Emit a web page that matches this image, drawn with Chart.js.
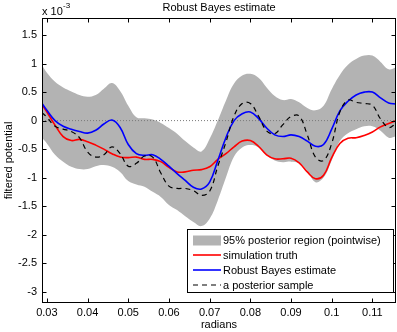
<!DOCTYPE html>
<html>
<head>
<meta charset="utf-8">
<script src="https://cdn.jsdelivr.net/npm/chart.js@4.4.1/dist/chart.umd.min.js"></script>
<style>
    html, body { margin: 0; padding: 0; background: #fff; }
    canvas { display: block; }
</style>
</head>
<body>
<canvas id="potentialChart" width="397" height="332"></canvas>
<script>
// values (potential in units of 1e-3)
const radians = [0.0288, 0.030, 0.032, 0.034, 0.036, 0.038, 0.040, 0.042, 0.044, 0.046,
    0.048, 0.050, 0.052, 0.054, 0.056, 0.058, 0.060, 0.062, 0.064, 0.066,
    0.068, 0.070, 0.072, 0.074, 0.076, 0.078, 0.080, 0.082, 0.084, 0.086,
    0.088, 0.090, 0.092, 0.094, 0.096, 0.098, 0.100, 0.102, 0.104, 0.106,
    0.108, 0.110, 0.112, 0.114, 0.1158];
const bandUpper = [0.97, 0.84, 0.68, 0.58, 0.51, 0.45, 0.42, 0.45, 0.56, 0.66,
    0.52, 0.26, 0.06, 0.04, 0.02, -0.04, -0.13, -0.23, -0.36, -0.47,
    -0.54, -0.32, 0.00, 0.35, 0.65, 0.79, 0.82, 0.75, 0.58, 0.43,
    0.36, 0.38, 0.32, 0.22, 0.18, 0.26, 0.55, 0.80, 0.98, 1.08,
    1.14, 1.14, 1.03, 0.90, 0.93];
const bandLower = [-0.30, -0.40, -0.60, -0.72, -0.81, -0.85, -0.85, -0.80, -0.78, -0.81,
    -0.90, -1.06, -1.12, -1.16, -1.25, -1.34, -1.48, -1.57, -1.68, -1.78,
    -1.85, -1.72, -1.40, -1.00, -0.63, -0.47, -0.43, -0.47, -0.60, -0.70,
    -0.73, -0.72, -0.75, -0.88, -1.08, -1.00, -0.70, -0.36, -0.22, -0.15,
    -0.10, -0.10, -0.18, -0.30, -0.28];
const truth = [0.28, 0.15, -0.08, -0.28, -0.35, -0.33, -0.37, -0.43, -0.50, -0.58,
    -0.64, -0.65, -0.64, -0.68, -0.68, -0.72, -0.82, -0.90, -0.90, -0.87,
    -0.86, -0.81, -0.68, -0.58, -0.46, -0.36, -0.35, -0.45, -0.60, -0.67,
    -0.67, -0.66, -0.74, -0.90, -1.02, -0.96, -0.65, -0.40, -0.31, -0.30,
    -0.26, -0.20, -0.11, -0.05, 0.00];
const estimate = [0.30, 0.18, 0.00, -0.10, -0.15, -0.19, -0.22, -0.17, -0.06, 0.01,
    -0.12, -0.42, -0.58, -0.61, -0.60, -0.68, -0.80, -0.93, -1.05, -1.17,
    -1.20, -1.08, -0.70, -0.30, 0.00, 0.12, 0.15, 0.04, -0.13, -0.25,
    -0.28, -0.25, -0.28, -0.36, -0.45, -0.42, -0.15, 0.17, 0.34, 0.45,
    0.50, 0.50, 0.40, 0.31, 0.29];
const sample = [0.14, 0.06, -0.10, -0.15, -0.19, -0.30, -0.55, -0.64, -0.60, -0.46,
    -0.58, -0.80, -0.75, -0.62, -0.64, -0.92, -1.15, -1.19, -1.19, -1.23,
    -1.31, -1.24, -0.80, -0.38, 0.08, 0.30, 0.30, 0.08, -0.18, -0.23,
    -0.07, 0.07, 0.08, -0.25, -0.64, -0.70, -0.40, 0.15, 0.36, 0.32,
    0.30, 0.27, 0.03, -0.12, -0.05];

const xTicks = [0.03, 0.04, 0.05, 0.06, 0.07, 0.08, 0.09, 0.1, 0.11];
const yTicks = [-3, -2.5, -2, -1.5, -1, -0.5, 0, 0.5, 1, 1.5];
const xRange = [0.0288, 0.1158];
const yRange = [-3.2, 1.8];

const FONT = '"Liberation Sans", Arial, Helvetica, sans-serif';

function toPoints(ys) {
    return ys.map(function(y, i) { return { x: radians[i], y: y }; });
}

// box, inward ticks, title, exponent and legend in the matlab look
const matlabFrame = {
    id: 'matlabFrame',
    afterDraw: function(chart) {
        const ctx = chart.ctx;
        const a = chart.chartArea;
        const xs = chart.scales.x;
        const ys = chart.scales.y;
        const L = Math.round(a.left) + 0.5, R = Math.round(a.right) - 0.5;
        const T = Math.round(a.top) + 0.5, B = Math.round(a.bottom) - 0.5;
        ctx.save();
        ctx.strokeStyle = '#000';
        ctx.lineWidth = 1;
        ctx.strokeRect(L, T, R - L, B - T);
        ctx.beginPath();
        xTicks.forEach(function(v) {
            const p = Math.round(xs.getPixelForValue(v)) + 0.5;
            ctx.moveTo(p, B); ctx.lineTo(p, B - 4);
            ctx.moveTo(p, T); ctx.lineTo(p, T + 4);
        });
        yTicks.forEach(function(v) {
            const p = Math.round(ys.getPixelForValue(v)) + 0.5;
            ctx.moveTo(L, p); ctx.lineTo(L + 4, p);
            ctx.moveTo(R, p); ctx.lineTo(R - 4, p);
        });
        ctx.stroke();

        // title and exponent
        ctx.fillStyle = '#000';
        ctx.font = '11px ' + FONT;
        ctx.textAlign = 'center';
        ctx.textBaseline = 'alphabetic';
        ctx.fillText('Robust Bayes estimate', (a.left + a.right) / 2, 11);
        ctx.textAlign = 'left';
        ctx.fillText('x 10', 42, 15);
        ctx.font = '8px ' + FONT;
        ctx.fillText('-3', 63, 8);

        // legend
        const lx = 187.5, ly = 229.5, lw = 206, lh = 63;
        ctx.fillStyle = '#fff';
        ctx.fillRect(lx, ly, lw, lh);
        ctx.strokeStyle = '#000';
        ctx.strokeRect(lx, ly, lw, lh);
        const rows = [240.5, 255, 270, 285];
        const items = [
            { label: chart.data.datasets[4].label, type: 'patch', color: '#b3b3b3' },
            { label: chart.data.datasets[2].label, type: 'line', color: '#ff0000', dash: [] },
            { label: chart.data.datasets[1].label, type: 'line', color: '#0000ff', dash: [] },
            { label: chart.data.datasets[0].label, type: 'line', color: '#000000', dash: [5, 4] }
        ];
        ctx.font = '11px ' + FONT;
        ctx.textBaseline = 'middle';
        items.forEach(function(it, i) {
            const y = rows[i];
            if (it.type === 'patch') {
                ctx.fillStyle = it.color;
                ctx.fillRect(193, y - 5, 28, 10);
            } else {
                ctx.strokeStyle = it.color;
                ctx.lineWidth = it.dash.length ? 1.2 : 1.6;
                ctx.setLineDash(it.dash);
                ctx.beginPath();
                ctx.moveTo(193, y); ctx.lineTo(221, y);
                ctx.stroke();
                ctx.setLineDash([]);
            }
            ctx.fillStyle = '#000';
            ctx.fillText(it.label, 223, y + 0.5);
        });
        ctx.restore();
    }
};

Chart.defaults.font.family = FONT;
Chart.defaults.font.size = 11;
Chart.defaults.color = '#000';

const ctx = document.getElementById('potentialChart').getContext('2d');
new Chart(ctx, {
    type: 'line',
    data: {
        datasets: [
            {
                label: 'a posterior sample',
                data: toPoints(sample),
                borderColor: '#000000',
                borderWidth: 1.2,
                borderDash: [5, 4],
                pointRadius: 0,
                fill: false
            },
            {
                label: 'Robust Bayes estimate',
                data: toPoints(estimate),
                borderColor: '#0000ff',
                borderWidth: 1.6,
                pointRadius: 0,
                fill: false
            },
            {
                label: 'simulation truth',
                data: toPoints(truth),
                borderColor: '#ff0000',
                borderWidth: 1.6,
                pointRadius: 0,
                fill: false
            },
            {
                label: 'zero',
                data: [{ x: xRange[0], y: 0 }, { x: xRange[1], y: 0 }],
                borderColor: '#7a7a7a',
                borderWidth: 1,
                borderDash: [1, 2],
                pointRadius: 0,
                tension: 0,
                fill: false
            },
            {
                label: '95% posterior region (pointwise)',
                data: toPoints(bandUpper),
                borderWidth: 0,
                borderColor: 'rgba(0,0,0,0)',
                backgroundColor: '#b3b3b3',
                pointRadius: 0,
                fill: '+1'
            },
            {
                label: 'lower',
                data: toPoints(bandLower),
                borderWidth: 0,
                borderColor: 'rgba(0,0,0,0)',
                pointRadius: 0,
                fill: false
            }
        ]
    },
    options: {
        responsive: false,
        animation: false,
        layout: { padding: { top: 18, right: 1, left: 0, bottom: 0 } },
        plugins: {
            legend: { display: false },
            tooltip: { enabled: false }
        },
        elements: { line: { tension: 0.4 } },
        scales: {
            x: {
                type: 'linear',
                min: xRange[0],
                max: xRange[1],
                grid: { display: false, drawTicks: false },
                border: { display: false },
                afterBuildTicks: function(scale) {
                    scale.ticks = xTicks.map(function(v) { return { value: v }; });
                },
                afterFit: function(scale) { scale.height = 29; },
                ticks: {
                    padding: 3,
                    maxRotation: 0,
                    autoSkip: false,
                    callback: function(v) { return String(v); }
                },
                title: {
                    display: true,
                    text: 'radians',
                    padding: { top: 0, bottom: 0 }
                }
            },
            y: {
                min: yRange[0],
                max: yRange[1],
                grid: { display: false, drawTicks: false },
                border: { display: false },
                afterBuildTicks: function(scale) {
                    scale.ticks = yTicks.map(function(v) { return { value: v }; });
                },
                afterFit: function(scale) { scale.width = 42; },
                ticks: {
                    padding: 5,
                    autoSkip: false,
                    callback: function(v) { return String(v); }
                },
                title: {
                    display: true,
                    text: 'filtered potential',
                    padding: { top: 2, bottom: 0 }
                }
            }
        }
    },
    plugins: [matlabFrame]
});
</script>
</body>
</html>
